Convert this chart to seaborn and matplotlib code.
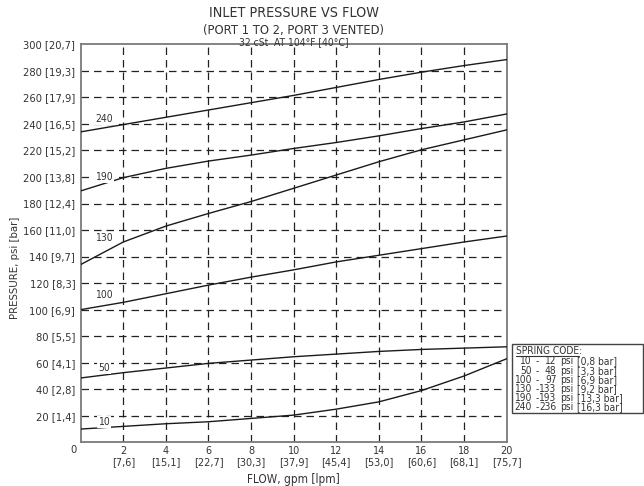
import numpy as np
import pandas as pd
import seaborn as sns
import matplotlib.pyplot as plt
from matplotlib.patches import Rectangle
from matplotlib.lines import Line2D

# Curve data (flow in gpm, inlet pressure in psi)
flow = [0, 2, 4, 6, 8, 10, 12, 14, 16, 18, 20]
p240 = [234, 239.5, 245, 250.5, 256, 261.5, 267.5, 273.5, 279, 284, 288.5]
p190 = [189.5, 199.5, 206.5, 212, 216.5, 221.5, 226, 231, 236.5, 241.5, 247.5]
p130 = [134, 151, 163, 172.5, 181.5, 191.5, 201.5, 211.5, 220.5, 228, 235.5]
p100 = [100, 105.5, 112, 118.5, 124.5, 130, 136, 141, 146, 151, 155.5]
p50 = [48.5, 52.5, 56, 59.5, 62, 64.5, 66.5, 68.5, 70, 71, 72]
p10 = [10, 12, 14, 15.5, 18, 20.5, 25, 30.5, 39, 50, 63]

springs = ['240', '190', '130', '100', '50', '10']
curves = [p240, p190, p130, p100, p50, p10]
label_y = [243.5, 200, 154, 111, 56, 15.5]

y_ticks = [20, 40, 60, 80, 100, 120, 140, 160, 180, 200, 220, 240, 260, 280, 300]
y_bar = ['1,4', '2,8', '4,1', '5,5', '6,9', '8,3', '9,7', '11,0', '12,4', '13,8',
         '15,2', '16,5', '17,9', '19,3', '20,7']
x_ticks = [2, 4, 6, 8, 10, 12, 14, 16, 18, 20]
x_lpm = ['7,6', '15,1', '22,7', '30,3', '37,9', '45,4', '53,0', '60,6', '68,1', '75,7']

code_set = ['10', '50', '100', '130', '190', '240']
code_psi = ['12', '48', '97', '133', '193', '236']
code_bar = ['0,8', '3,3', '6,9', '9,2', '13,3', '16,3']

rows = []
for s, vals in zip(springs, curves):
    for f, p in zip(flow, vals):
        rows.append({'flow': f, 'pressure': p, 'spring': s})
df = pd.DataFrame(rows)

sns.set_theme(style='white')
plt.rcParams['font.family'] = ['DejaVu Sans']
txt = '#333333'
cond = dict(fontstretch='condensed', color=txt)

fig = plt.figure(figsize=(6.44, 4.86), dpi=100)
ax = fig.add_axes([0.1253, 0.0899, 0.6615, 0.8189])

sns.lineplot(data=df, x='flow', y='pressure', hue='spring', palette=['#1a1a1a'] * 6,
             linewidth=1.0, legend=False, ax=ax, zorder=3)

ax.set_xlim(0, 20)
ax.set_ylim(0, 300)

# dashed grid
for x in x_ticks[:-1]:
    ax.axvline(x, color='#222222', lw=0.9, ls=(0, (6, 4)), zorder=1)
for y in y_ticks[:-1]:
    ax.axhline(y, color='#222222', lw=0.9, ls=(0, (6, 4)), zorder=1)

ax.set_yticks(y_ticks)
ax.set_yticklabels([f'{v} [{b}]' for v, b in zip(y_ticks, y_bar)])
ax.set_xticks(x_ticks)
ax.set_xticklabels([f'{v}\n[{l}]' for v, l in zip(x_ticks, x_lpm)], linespacing=1.15)
ax.tick_params(axis='y', length=0, labelsize=7.2, colors=txt, pad=4)
ax.tick_params(axis='x', length=0, labelsize=7, colors=txt, pad=2.5)
ax.annotate('0', xy=(0, 0), xycoords='data', xytext=(-5, -5.5), textcoords='offset points',
            ha='center', va='center', fontsize=7.2, color=txt)

for sp in ax.spines.values():
    sp.set_color('#7a7a7a')
    sp.set_linewidth(1.3)

for s, y in zip(springs, label_y):
    ax.text(1.1, y, s, ha='center', va='center', fontsize=7.5, zorder=4,
            bbox=dict(facecolor='white', edgecolor='none', pad=0.6), **cond)

ax.set_xlabel('FLOW, gpm [lpm]', fontsize=8.5, labelpad=4.5, **cond)
ax.set_ylabel('PRESSURE, psi [bar]', fontsize=8.2, **cond)
ax.yaxis.set_label_coords(-0.1425, 0.439)

fig.text(293.7 / 644, 1 - 13 / 486, 'INLET PRESSURE VS FLOW', ha='center', va='center',
         fontsize=10.3, **cond)
fig.text(293.7 / 644, 1 - 30 / 486, '(PORT 1 TO 2, PORT 3 VENTED)', ha='center', va='center',
         fontsize=9.3, **cond)
fig.text(293.7 / 644, 1 - 42.5 / 486, '32 cSt  AT 104°F [40°C]', ha='center', va='center',
         fontsize=7.4, **cond)

# spring code box
def fx(px):
    return px / 644

def fy(py):
    return 1 - py / 486

fig.patches.append(Rectangle((fx(512.3), fy(413)), fx(642.5) - fx(512.3), fy(344.3) - fy(413),
                             transform=fig.transFigure, fill=False, edgecolor='#444444', lw=1.0))
fig.text(fx(515.7), fy(351.5), 'SPRING CODE:', ha='left', va='center', fontsize=7.3, **cond)
fig.lines.append(Line2D([fx(515.7), fx(579)], [fy(356), fy(356)], transform=fig.transFigure,
                        color=txt, lw=0.8))
for i, (a, b, c) in enumerate(zip(code_set, code_psi, code_bar)):
    yy = fy(361.5 + i * 9.1)
    fig.text(fx(532), yy, a, ha='right', va='center', fontsize=7.3, **cond)
    fig.text(fx(537), yy, '-', ha='center', va='center', fontsize=7.3, **cond)
    fig.text(fx(556.5), yy, b, ha='right', va='center', fontsize=7.3, **cond)
    fig.text(fx(560.5), yy, 'psi', ha='left', va='center', fontsize=7.3, **cond)
    fig.text(fx(577), yy, f'[{c} bar]', ha='left', va='center', fontsize=7.3, **cond)

fig.savefig('out.png', dpi=100)
